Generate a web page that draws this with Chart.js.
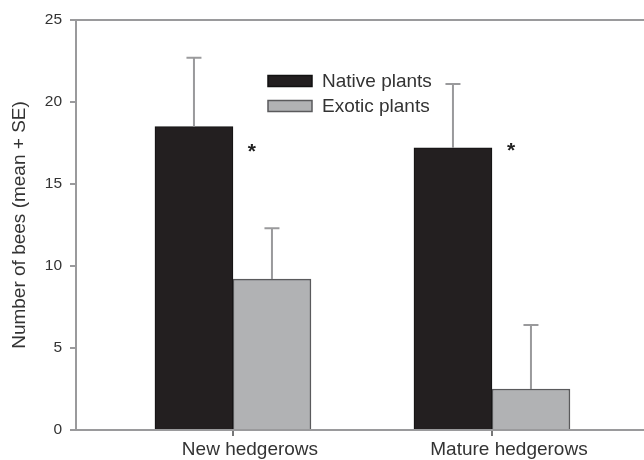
<!DOCTYPE html>
<html>
<head>
<meta charset="utf-8">
<script src="https://cdn.jsdelivr.net/npm/chart.js@4/dist/chart.umd.min.js"></script>
<style>
  html, body { margin: 0; padding: 0; background: #ffffff; }
  #wrap { width: 644px; height: 460px; }
</style>
</head>
<body>
<div id="wrap"><canvas id="c" width="644" height="460"></canvas></div>
<script>
// ---- data ----
const categories = ["New hedgerows", "Mature hedgerows"];
const seriesNames = ["Native plants", "Exotic plants"];
const nativeMean = [18.5, 17.2];
const exoticMean = [9.2, 2.5];
const nativeSE = [4.2, 3.9];
const exoticSE = [3.1, 3.9];
const sigLevel = [17.3, 17.4]; // y position of the "*" markers
const sigMark = ["*", "*"];
const yTicks = [0, 5, 10, 15, 20, 25];

const TEXT = '#333333';
const AXIS = '#9a9a9c';
const FONT = "'Liberation Sans', Arial, sans-serif";

const toPts = arr => arr.map((v, i) => ({ x: i, y: v }));

const errorBars = {
  id: 'errorBars',
  afterDatasetsDraw(chart) {
    const ctx = chart.ctx;
    const y = chart.scales.y;
    const ses = [nativeSE, exoticSE];
    chart.data.datasets.forEach((ds, di) => {
      const meta = chart.getDatasetMeta(di);
      meta.data.forEach((el, i) => {
        const v = ds.data[i].y;
        const top = y.getPixelForValue(v + ses[di][i]);
        const base = y.getPixelForValue(v);
        ctx.save();
        ctx.strokeStyle = AXIS;
        ctx.lineWidth = 2;
        ctx.beginPath();
        ctx.moveTo(el.x, base);
        ctx.lineTo(el.x, top);
        ctx.moveTo(el.x - 7.5, top);
        ctx.lineTo(el.x + 7.5, top);
        ctx.stroke();
        ctx.restore();
      });
    });
    const meta0 = chart.getDatasetMeta(0);
    meta0.data.forEach((el, i) => {
      const yc = y.getPixelForValue(sigLevel[i]);
      ctx.save();
      ctx.fillStyle = '#222';
      ctx.font = 'bold 21px ' + FONT;
      ctx.textAlign = 'center';
      ctx.textBaseline = 'alphabetic';
      ctx.fillText(sigMark[i], el.x + el.width / 2 + 19, yc + 12);
      ctx.restore();
    });
  }
};

const innerLegend = {
  id: 'innerLegend',
  afterDraw(chart) {
    const ctx = chart.ctx;
    const a = chart.chartArea;
    const x0 = a.left + 192;
    const rows = [a.top + 61, a.top + 86];
    chart.data.datasets.forEach((ds, i) => {
      const yc = rows[i];
      ctx.save();
      ctx.fillStyle = ds.backgroundColor;
      ctx.fillRect(x0, yc - 5.5, 44, 11);
      ctx.strokeStyle = ds.borderColor;
      ctx.lineWidth = 1.5;
      ctx.strokeRect(x0, yc - 5.5, 44, 11);
      ctx.fillStyle = TEXT;
      ctx.font = '19px ' + FONT;
      ctx.textAlign = 'left';
      ctx.textBaseline = 'middle';
      ctx.fillText(ds.label, x0 + 54, yc + 1);
      ctx.restore();
    });
  }
};

new Chart(document.getElementById('c'), {
  type: 'bar',
  data: {
    datasets: [
      { label: seriesNames[0], data: toPts(nativeMean), backgroundColor: '#231f20', borderColor: '#111111', borderWidth: 1 },
      { label: seriesNames[1], data: toPts(exoticMean), backgroundColor: '#b1b2b4', borderColor: '#5a5a5c', borderWidth: 1.5 }
    ]
  },
  options: {
    responsive: false,
    animation: false,
    layout: { padding: { top: 20, right: 0, left: 0, bottom: 0 } },
    datasets: { bar: { barThickness: 78, grouped: true } },
    plugins: { legend: { display: false }, tooltip: { enabled: false } },
    scales: {
      x: {
        type: 'linear',
        offset: false,
        min: -0.606,
        max: 1.587,
        afterBuildTicks: s => { s.ticks = categories.map((c, i) => ({ value: i })); },
        afterFit: s => { s.height = 30; },
        ticks: {
          callback: v => categories[v],
          color: TEXT,
          font: { family: FONT, size: 19 },
          padding: 2,
          labelOffset: 17,
          maxRotation: 0,
          autoSkip: false
        },
        grid: { offset: false, color: 'rgba(0,0,0,0)', tickColor: '#777', tickLength: 6, tickWidth: 2, lineWidth: 2 },
        border: { color: AXIS, width: 2 }
      },
      y: {
        min: 0,
        max: 25,
        afterBuildTicks: s => { s.ticks = yTicks.map(v => ({ value: v })); },
        afterFit: s => { s.width = 76; },
        ticks: { color: TEXT, font: { family: FONT, size: 15.5 }, padding: 8 },
        grid: {
          color: c => (c.tick && c.tick.value === 25 ? AXIS : 'rgba(0,0,0,0)'),
          tickColor: AXIS,
          tickLength: 6,
          lineWidth: 2
        },
        border: { color: AXIS, width: 2 },
        title: {
          display: true,
          text: 'Number of bees (mean + SE)',
          color: TEXT,
          font: { family: FONT, size: 19 },
          padding: { top: 8, bottom: 0 }
        }
      }
    }
  },
  plugins: [errorBars, innerLegend]
});
</script>
</body>
</html>
